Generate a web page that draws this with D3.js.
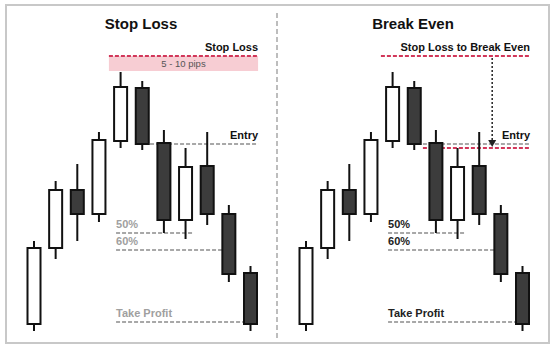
<!DOCTYPE html>
<html>
<head>
<meta charset="utf-8">
<script src="https://cdn.jsdelivr.net/npm/d3@7"></script>
<style>
  body { margin: 0; background: #fff; }
  text { font-family: Arial, "Liberation Sans", sans-serif; }
</style>
</head>
<body>
<div id="canvas"><svg width="554" height="347"></svg></div>
<script>
// candle data (price units, one set shared by both panels)
const opens  = [16, 92, 150, 126, 199, 252, 197, 120, 174, 126, 67];
const closes = [92, 150, 126, 200, 253, 196, 120, 173, 126, 66, 16];
const highs  = [99, 159, 176, 208, 268, 259, 210, 192, 208, 135, 74];
const lows   = [9, 81, 99, 118, 192, 190, 107, 101, 115, 58, 9];

// levels
const stopLoss = 284;
const pipsBottom = 269;
const entry = 196;
const breakEven = 192;
const fifty = 107;
const sixty = 90;
const takeProfit = 18;

const panelTitles = ["Stop Loss", "Break Even"];

const svg = d3.select("#canvas").select("svg");

const y = d3.scaleLinear().domain([0, 290]).range([340, 50]);
const candleW = 13;

// outer frame
svg.append("rect")
    .attr("x", 6).attr("y", 5).attr("width", 543).attr("height", 338)
    .attr("fill", "none").attr("stroke", "#c8c8c8").attr("stroke-width", 2);

// divider
svg.append("line")
    .attr("x1", 277).attr("x2", 277).attr("y1", 13).attr("y2", 338)
    .attr("stroke", "#bdbdbd").attr("stroke-width", 2).attr("stroke-dasharray", "5,3");

function dashed(g, x1, x2, yv, color, w) {
    g.append("line")
        .attr("x1", x1).attr("x2", x2).attr("y1", y(yv)).attr("y2", y(yv))
        .attr("stroke", color).attr("stroke-width", w || 2)
        .attr("stroke-dasharray", "4,2");
}

function label(g, x, yv, txt, anchor, color, size) {
    g.append("text")
        .attr("x", x).attr("y", y(yv) - 5)
        .attr("text-anchor", anchor)
        .attr("font-size", size || 11)
        .attr("font-weight", "bold")
        .attr("fill", color)
        .text(txt);
}

panelTitles.forEach((title, p) => {
    const off = p * 272;
    const x = d3.scaleLinear().domain([0, 10]).range([34 + off, 250.5 + off]);
    const g = svg.append("g").attr("class", "panel");
    const lblColor = p === 0 ? "#a0a0a0" : "#222";
    const lineColor = "#a8a8a8";
    const red = "#d2375a";

    g.append("text")
        .attr("x", p === 0 ? 141 : 413).attr("y", 29)
        .attr("text-anchor", "middle")
        .attr("font-size", 15).attr("font-weight", "bold").attr("fill", "#111")
        .text(title);

    const right = x(10.35);

    // lower levels
    dashed(g, x(3.79), x(7.3), fifty, lineColor);
    dashed(g, x(3.79), x(9.19), sixty, lineColor);
    dashed(g, x(3.79), x(10.3), takeProfit, lineColor);
    label(g, x(3.79), fifty, "50%", "start", lblColor);
    label(g, x(3.79), sixty, "60%", "start", lblColor);
    label(g, x(3.79), takeProfit, "Take Profit", "start", lblColor);

    if (p === 0) {
        g.append("rect")
            .attr("x", x(3.46)).attr("y", y(stopLoss))
            .attr("width", right - x(3.46)).attr("height", y(pipsBottom) - y(stopLoss))
            .attr("fill", "#f7cdd3");
        g.append("text")
            .attr("x", (x(3.46) + right) / 2).attr("y", y(pipsBottom) - 4)
            .attr("text-anchor", "middle").attr("font-size", 9.5).attr("fill", "#555")
            .text("5 - 10 pips");
        dashed(g, x(3.46), right, stopLoss, red);
        label(g, right, stopLoss, "Stop Loss", "end", "#111");
        dashed(g, x(5.36), right, entry, lineColor);
        label(g, right, entry, "Entry", "end", "#111");
    } else {
        dashed(g, x(3.46), right, stopLoss, red);
        label(g, right, stopLoss, "Stop Loss to Break Even", "end", "#111");
        dashed(g, x(5.4), right, entry, lineColor);
        dashed(g, x(5.4), right, breakEven, red);
        label(g, right, entry, "Entry", "end", "#111");
        // arrow down from stop loss to break even
        const ax = x(8.6);
        g.append("line")
            .attr("x1", ax).attr("x2", ax)
            .attr("y1", y(stopLoss) + 2).attr("y2", y(breakEven) - 6)
            .attr("stroke", "#222").attr("stroke-width", 1.5).attr("stroke-dasharray", "2,2");
        g.append("path")
            .attr("d", `M${ax - 4},${y(breakEven) - 8} L${ax + 4},${y(breakEven) - 8} L${ax},${y(breakEven) - 1} Z`)
            .attr("fill", "#222");
    }

    // candles
    const idx = d3.range(opens.length);
    g.selectAll("line.wick").data(idx).join("line")
        .attr("class", "wick")
        .attr("x1", i => x(i)).attr("x2", i => x(i))
        .attr("y1", i => y(highs[i])).attr("y2", i => y(lows[i]))
        .attr("stroke", "#111").attr("stroke-width", 2);
    g.selectAll("rect.body").data(idx).join("rect")
        .attr("class", "body")
        .attr("x", i => x(i) - candleW / 2)
        .attr("y", i => y(Math.max(opens[i], closes[i])))
        .attr("width", candleW)
        .attr("height", i => Math.abs(y(opens[i]) - y(closes[i])))
        .attr("fill", i => closes[i] > opens[i] ? "#fff" : "#3c3c3c")
        .attr("stroke", "#111").attr("stroke-width", 2);
});
</script>
</body>
</html>
